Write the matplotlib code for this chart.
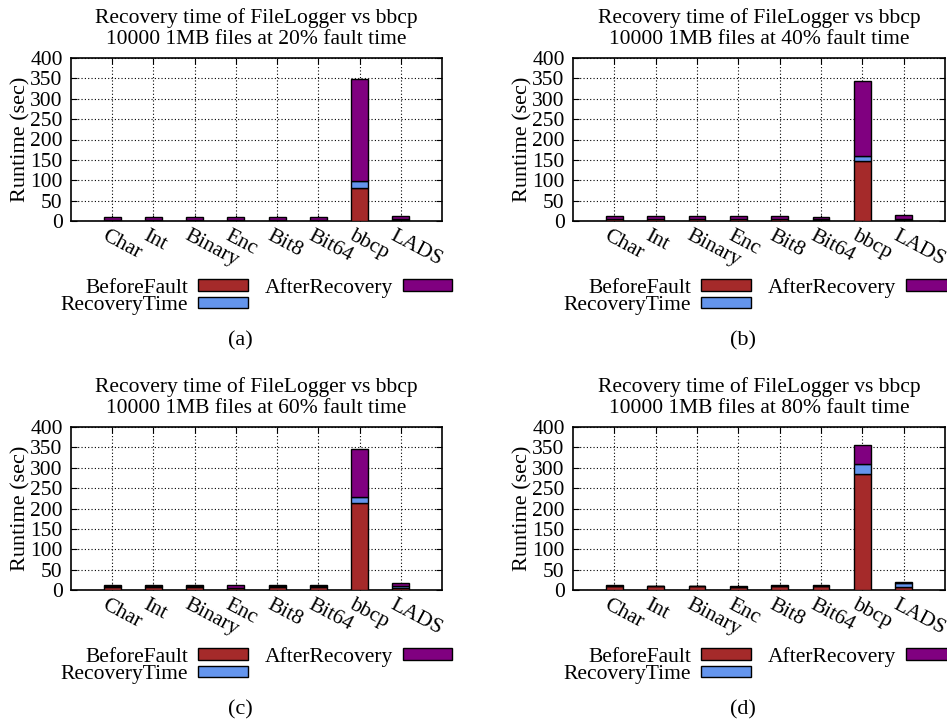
import numpy as np
import matplotlib
matplotlib.use("Agg")
import matplotlib.pyplot as plt

plt.rcParams['font.family'] = ['Liberation Serif', 'DejaVu Serif']
plt.rcParams['mathtext.fontset'] = 'stix'

categories = ["Char", "Int", "Binary", "Enc", "Bit8", "Bit64", "bbcp", "LADS"]
fault_pcts = [20, 40, 60, 80]
captions = ["(a)", "(b)", "(c)", "(d)"]

# BeforeFault / RecoveryTime / AfterRecovery (sec) for each fault time
before_20 = [1.5, 2, 1.5, 1.5, 1.5, 1.5, 80, 3]
recovery_20 = [0.5, 0.5, 0.5, 0.5, 0.5, 0.5, 17, 1]
after_20 = [8, 8.5, 8, 8, 8, 8, 251, 9]

before_40 = [4, 4, 4, 4, 4, 3, 147, 3]
recovery_40 = [1, 1, 1, 1, 1, 1, 13, 3]
after_40 = [7, 7, 7, 7, 8, 7, 184, 9]

before_60 = [8, 8, 8, 5, 8, 8, 213, 6]
recovery_60 = [1, 1, 1, 1, 1, 1, 16, 5]
after_60 = [4, 4, 4, 6, 3, 4, 118, 6]

before_80 = [10, 9, 9, 8, 10, 10, 285, 7]
recovery_80 = [0.5, 0.5, 0.5, 0.5, 0.5, 0.5, 25, 10]
after_80 = [1, 0.5, 0.5, 0.5, 1, 1, 45, 1.5]

before = [before_20, before_40, before_60, before_80]
recovery = [recovery_20, recovery_40, recovery_60, recovery_80]
after = [after_20, after_40, after_60, after_80]

c_before = "#a52a2a"
c_recovery = "#6495ed"
c_after = "#800080"

W, H = 947, 727
fig = plt.figure(figsize=(W / 100, H / 100), dpi=100)

# panel boxes in pixels: left, top, right, bottom
boxes = [(71, 58, 442, 221), (573, 58, 945, 221),
         (71, 427, 442, 590), (573, 427, 945, 590)]

FS = 15.5
x = np.arange(len(categories))
for i, (l, t, r, b) in enumerate(boxes):
    ax = fig.add_axes([l / W, 1 - b / H, (r - l) / W, (b - t) / H])
    bf = np.array(before[i])
    rt = np.array(recovery[i])
    ar = np.array(after[i])
    h1 = ax.bar(x, bf, 0.41, color=c_before, edgecolor="black", linewidth=1, zorder=3)
    h2 = ax.bar(x, rt, 0.41, bottom=bf, color=c_recovery, edgecolor="black", linewidth=1, zorder=3)
    h3 = ax.bar(x, ar, 0.41, bottom=bf + rt, color=c_after, edgecolor="black", linewidth=1, zorder=3)
    ax.set_xlim(-1, 8)
    ax.set_ylim(0, 400)
    ax.set_yticks(range(0, 401, 50))
    ax.set_xticks(x)
    ax.set_xticklabels([])
    # gnuplot-style rotated labels, left-justified slightly left of the tick
    for xi, cat in zip(x, categories):
        ax.annotate(cat, xy=(xi, 0), xycoords=("data", "axes fraction"),
                    xytext=(-9, -14), textcoords="offset pixels",
                    rotation=-28, rotation_mode="anchor", ha="left", va="center",
                    fontsize=FS, annotation_clip=False)
    ax.tick_params(axis="y", labelsize=FS, direction="in", right=True, length=4, pad=6)
    ax.tick_params(axis="x", direction="in", top=True, length=4, pad=0)
    ax.grid(True, color="black", linestyle=(0, (1, 2)), linewidth=0.8, zorder=0)
    ax.set_axisbelow(True)
    ax.set_ylabel("Runtime (sec)", fontsize=16, labelpad=0)
    ax.set_title("Recovery time of FileLogger vs bbcp\n10000 1MB files at %d%% fault time"
                 % fault_pcts[i], fontsize=FS, linespacing=1.15, pad=10)
    for s in ax.spines.values():
        s.set_linewidth(1.2)

    fig.legend([h1, h2, h3], ["BeforeFault", "RecoveryTime", "AfterRecovery"],
               ncol=2, markerfirst=False, frameon=False, fontsize=FS,
               loc="upper right", bbox_to_anchor=((r + 21) / W, 1 - (b + 46) / H),
               borderpad=0, handlelength=2.3, handleheight=0.42,
               labelspacing=-0.08, columnspacing=0.8, handletextpad=0.45)
    fig.text((l + r) / 2 / W - 0.017, 1 - (b + 120) / H, captions[i],
             ha="center", va="center", fontsize=16)

fig.savefig("out.png", dpi=100)
